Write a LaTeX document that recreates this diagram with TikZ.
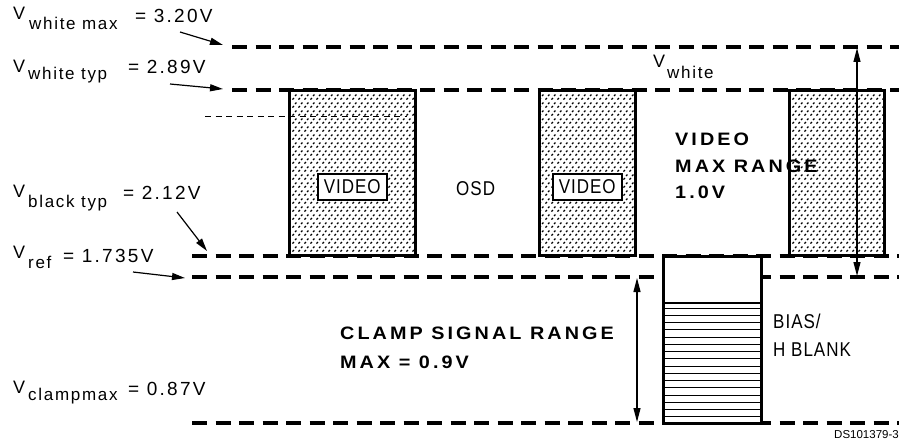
\documentclass[tikz,border=0pt]{standalone}
\usepackage{fontspec}
\setmainfont{Liberation Sans}
\newfontfamily\lblf{Liberation Sans}[LetterSpace=10]
\newfontfamily\valf{Liberation Sans}[LetterSpace=12]
\newfontfamily\inff{Liberation Sans}[FakeStretch=0.85,LetterSpace=5]
\newfontfamily\bldf{Liberation Sans}[FakeStretch=1.1,LetterSpace=17]
\usetikzlibrary{patterns.meta,arrows.meta}
\tikzdeclarepattern{
  name=speck,
  type=uncolored,
  bounding box={(0pt,0pt) and (5.5pt,8pt)},
  tile size={(5.5pt,8pt)},
  code={
    \draw[line width=1.4pt] (0.5pt,0.5pt) -- (2.1pt,2.1pt);
    \draw[line width=1.4pt] (3.25pt,4.5pt) -- (4.85pt,6.1pt);
  }
}
\tikzset{
  thickdash/.style={line width=4pt, dash pattern=on 15pt off 8.5pt},
  thindash/.style={line width=1pt, dash pattern=on 6pt off 4.5pt},
  boxline/.style={line width=3pt},
  hatchbox/.style={preaction={fill=white}, pattern=speck, pattern color=black},
  arr/.style={line width=1.2pt, -{Triangle[length=13pt,width=7pt]}},
  darr/.style={line width=1.2pt, {Triangle[length=14pt,width=7pt]}-{Triangle[length=14pt,width=7pt]}},
  txt/.style={inner sep=0pt, anchor=base west},
  vfont/.style={font=\lblf\fontsize{18}{18}\selectfont},
  sfont/.style={font=\lblf\fontsize{17}{17}\selectfont},
  valfont/.style={font=\valf\fontsize{19}{19}\selectfont},
  bfont/.style={font=\bldf\bfseries\fontsize{18}{18}\selectfont},
  ifont/.style={font=\inff\fontsize{20}{20}\selectfont},
  vidbox/.style={draw, line width=2pt, fill=white, inner sep=0pt, minimum width=69.5pt, minimum height=25.5pt, font=\inff\fontsize{20}{20}\selectfont}
}
\begin{document}
\begin{tikzpicture}[x=1pt,y=-1pt]
\useasboundingbox (0,0) rectangle (899,444);

% level lines
\coordinate (l1s) at (232,47);  \coordinate (l1e) at (899,47);
\coordinate (l2s) at (232,90);  \coordinate (l2e) at (899,90);
\coordinate (l3s) at (192,256); \coordinate (l3e) at (899,256);
\coordinate (l4s) at (192,277); \coordinate (l4e) at (899,277);
\coordinate (l5s) at (192,423); \coordinate (l5e) at (899,423);
\draw[thickdash] (l1s) -- (l1e);
\draw[thickdash] (l2s) -- (l2e);
\draw[thickdash] (l3s) -- (l3e);
\draw[thickdash] (l4s) -- (l4e);
\draw[thickdash] (l5s) -- (l5e);

% video boxes
\path[hatchbox] (289.5,90) rectangle (415,255.5);
\path[hatchbox] (539.5,90) rectangle (635,255.5);
\path[hatchbox] (789,90) rectangle (884,255.5);
\draw[boxline] (289.5,90) rectangle (415,255.5);
\draw[boxline] (539.5,90) rectangle (635,255.5);
\draw[boxline] (789,90) rectangle (884,255.5);

% thin dashed line
\coordinate (td1) at (205,116);
\coordinate (td2) at (407,116);
\draw[thindash] (td1) -- (td2);

% VIDEO labels
\node[vidbox] (vid1) at (352.25,186.75) {VIDEO};
\node[vidbox] (vid2) at (587.25,186.75) {VIDEO};
\node[txt, ifont] (osd) at (456,195) {OSD};

% bias box
\path[fill=white] (663,256) rectangle (761,423);
\foreach \k in {0,...,15} {
  \draw[line width=1pt] (663,308+7.25*\k) -- (761,308+7.25*\k);
}
\draw[line width=2pt] (663,303) -- (761,303);
\draw[boxline] (663,256) rectangle (761,423);
\node[txt, ifont] (bias) at (773,328) {BIAS/};
\node[txt, ifont] (hblank) at (773,356) {H BLANK};

% vertical range arrows
\coordinate (va1) at (857,48);
\coordinate (va2) at (857,276);
\draw[darr] (va1) -- (va2);
\coordinate (ca1) at (637,278);
\coordinate (ca2) at (637,422);
\draw[darr] (ca1) -- (ca2);

% bold labels
\node[txt, bfont] (vmr1) at (675,145) {VIDEO};
\node[txt, bfont] (vmr2) at (675,172) {MAX RANGE};
\node[txt, bfont] (vmr3) at (675,198) {1.0V};
\node[txt, bfont] (csr1) at (340,339) {CLAMP SIGNAL RANGE};
\node[txt, bfont] (csr2) at (340,368) {MAX = 0.9V};

% V_white
\node[txt, vfont] (vwV) at (653,67) {V};
\node[txt, sfont] (vwS) at (667,78) {white};

% left labels
\node[txt, vfont] (a1V) at (13,20) {V};
\node[txt, sfont] (a1S) at (29,30) {white max};
\node[txt, valfont] (a1v) at (135,23) {= 3.20V};

\node[txt, vfont] (a2V) at (13,72) {V};
\node[txt, sfont] (a2S) at (28,80) {white typ};
\node[txt, valfont] (a2v) at (128,74) {= 2.89V};

\node[txt, vfont] (a3V) at (13,197) {V};
\node[txt, sfont] (a3S) at (28,207) {black typ};
\node[txt, valfont] (a3v) at (123,199) {= 2.12V};

\node[txt, vfont] (a4V) at (13,258) {V};
\node[txt, sfont] (a4S) at (28,268) {ref};
\node[txt, valfont] (a4v) at (63,262) {= 1.735V};

\node[txt, vfont] (a5V) at (13,393) {V};
\node[txt, sfont] (a5S) at (28,400) {clampmax};
\node[txt, valfont] (a5v) at (128,395) {= 0.87V};

% pointer arrows
\coordinate (p1a) at (180,32);  \coordinate (p1b) at (223,45);
\coordinate (p2a) at (170,84);  \coordinate (p2b) at (223,89);
\coordinate (p3a) at (177,212); \coordinate (p3b) at (207,251);
\coordinate (p4a) at (133,272); \coordinate (p4b) at (185,278);
\draw[arr] (p1a) -- (p1b);
\draw[arr] (p2a) -- (p2b);
\draw[arr] (p3a) -- (p3b);
\draw[arr] (p4a) -- (p4b);

\node[inner sep=0pt, anchor=base east, font=\fontsize{11.5}{11.5}\selectfont] (ds) at (899,438) {DS101379-3};
\end{tikzpicture}
\end{document}
